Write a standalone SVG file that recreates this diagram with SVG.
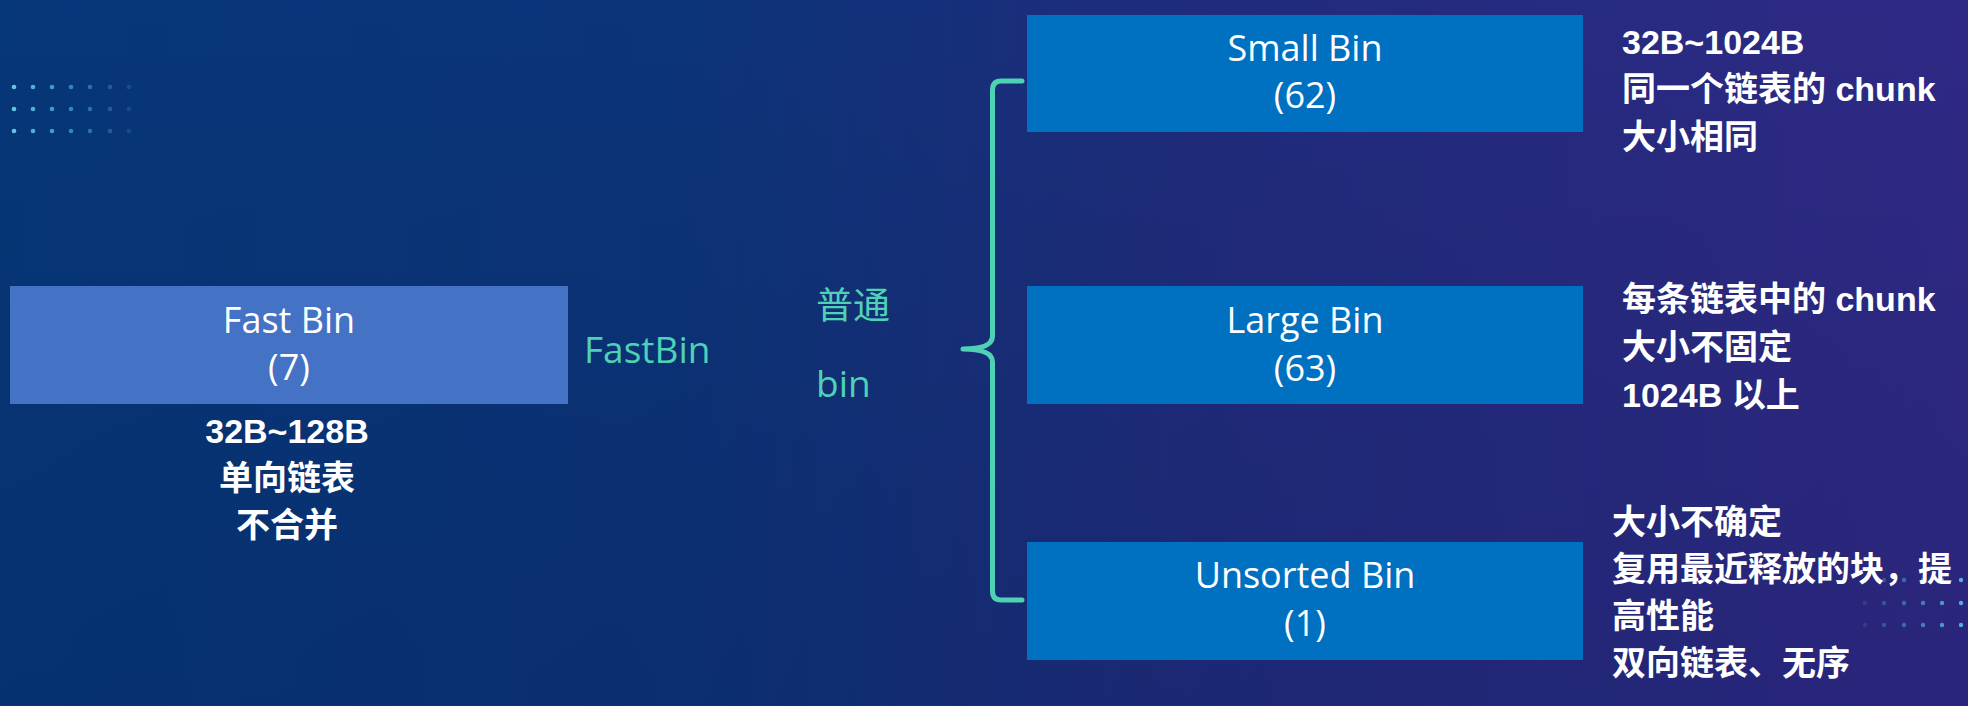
<svg xmlns="http://www.w3.org/2000/svg" width="1968" height="706" viewBox="0 0 1968 706">
  <defs>
    <linearGradient id="bg" x1="0" y1="0" x2="1" y2="0">
      <stop offset="0" stop-color="#063779"/>
      <stop offset="0.35" stop-color="#0c3479"/>
      <stop offset="0.6" stop-color="#1f2c7c"/>
      <stop offset="1" stop-color="#2f2986"/>
    </linearGradient>
    <linearGradient id="shade" x1="0" y1="0" x2="0" y2="1">
      <stop offset="0" stop-color="#000000" stop-opacity="0"/>
      <stop offset="1" stop-color="#000a30" stop-opacity="0.12"/>
    </linearGradient>
    <style>
      .box-light { fill: #4472C4; }
      .box { fill: #0070C0; }
      .lbl { font-family: "Open Sans", "Noto Sans", sans-serif; font-size: 36px; fill: #ffffff; text-anchor: middle; }
      .note { font-family: "Liberation Sans", "Noto Sans CJK SC", sans-serif; font-size: 34px; font-weight: 700; fill: #ffffff; }
      .green { font-family: "Open Sans", "Noto Sans CJK SC", sans-serif; font-size: 37px; fill: #4FD1B6; }
      .brace { fill: none; stroke: #4FD1B6; stroke-width: 5; stroke-linejoin: round; stroke-linecap: round; }
      .dot { fill: #5EC8E2; }
    </style>
  </defs>

  <rect x="0" y="0" width="1968" height="706" fill="url(#bg)"/>
  <rect x="0" y="0" width="1968" height="706" fill="url(#shade)"/>

  <g id="dots-top-left">
    <g opacity="1"><circle class="dot" cx="14" cy="87" r="2.3"/><circle class="dot" cx="14" cy="109" r="2.3"/><circle class="dot" cx="14" cy="131" r="2.3"/></g>
    <g opacity="0.85"><circle class="dot" cx="33" cy="87" r="2.3"/><circle class="dot" cx="33" cy="109" r="2.3"/><circle class="dot" cx="33" cy="131" r="2.3"/></g>
    <g opacity="0.7"><circle class="dot" cx="52" cy="87" r="2.3"/><circle class="dot" cx="52" cy="109" r="2.3"/><circle class="dot" cx="52" cy="131" r="2.3"/></g>
    <g opacity="0.55"><circle class="dot" cx="71" cy="87" r="2.3"/><circle class="dot" cx="71" cy="109" r="2.3"/><circle class="dot" cx="71" cy="131" r="2.3"/></g>
    <g opacity="0.42"><circle class="dot" cx="90" cy="87" r="2.3"/><circle class="dot" cx="90" cy="109" r="2.3"/><circle class="dot" cx="90" cy="131" r="2.3"/></g>
    <g opacity="0.28"><circle class="dot" cx="110" cy="87" r="2.3"/><circle class="dot" cx="110" cy="109" r="2.3"/><circle class="dot" cx="110" cy="131" r="2.3"/></g>
    <g opacity="0.16"><circle class="dot" cx="129" cy="87" r="2.3"/><circle class="dot" cx="129" cy="109" r="2.3"/><circle class="dot" cx="129" cy="131" r="2.3"/></g>
  </g>

  <g id="dots-bottom-right">
    <g opacity="0.15"><circle class="dot" cx="1865" cy="580" r="2.2"/><circle class="dot" cx="1865" cy="603" r="2.2"/><circle class="dot" cx="1865" cy="625" r="2.2"/></g>
    <g opacity="0.28"><circle class="dot" cx="1884" cy="580" r="2.2"/><circle class="dot" cx="1884" cy="603" r="2.2"/><circle class="dot" cx="1884" cy="625" r="2.2"/></g>
    <g opacity="0.42"><circle class="dot" cx="1904" cy="580" r="2.2"/><circle class="dot" cx="1904" cy="603" r="2.2"/><circle class="dot" cx="1904" cy="625" r="2.2"/></g>
    <g opacity="0.55"><circle class="dot" cx="1923" cy="580" r="2.2"/><circle class="dot" cx="1923" cy="603" r="2.2"/><circle class="dot" cx="1923" cy="625" r="2.2"/></g>
    <g opacity="0.7"><circle class="dot" cx="1942" cy="580" r="2.2"/><circle class="dot" cx="1942" cy="603" r="2.2"/><circle class="dot" cx="1942" cy="625" r="2.2"/></g>
    <g opacity="0.85"><circle class="dot" cx="1961" cy="580" r="2.2"/><circle class="dot" cx="1961" cy="603" r="2.2"/><circle class="dot" cx="1961" cy="625" r="2.2"/></g>
  </g>

  <g id="connectors">
    <path class="brace" d="M1022,81 L1001,81 Q992.5,81 992.5,90 L992.5,336 Q992.5,349 963,349 Q992.5,349 992.5,362 L992.5,591 Q992.5,600 1001,600 L1022,600"/>
  </g>

  <g id="fastbin">
    <rect class="box-light" x="10" y="286" width="558" height="118"/>
    <text class="lbl" x="289" y="333">Fast Bin</text>
    <text class="lbl" x="289" y="380">(7)</text>
  </g>

  <g id="fastbin-notes">
    <text class="note" x="287" y="443" text-anchor="middle">32B~128B</text>
    <text class="note" x="287" y="490" text-anchor="middle">单向链表</text>
    <text class="note" x="287" y="537" text-anchor="middle">不合并</text>
  </g>

  <g id="fastbin-label">
    <text class="green" x="584" y="363">FastBin</text>
  </g>

  <g id="normal-bin-label">
    <text class="green" x="816" y="319" font-size="38" font-family="'Noto Sans CJK SC', sans-serif">普通</text>
    <text class="green" x="816" y="397">bin</text>
  </g>

  <g id="smallbin">
    <rect class="box" x="1027" y="15" width="556" height="117"/>
    <text class="lbl" x="1305" y="61">Small Bin</text>
    <text class="lbl" x="1305" y="108">(62)</text>
  </g>

  <g id="smallbin-notes">
    <text class="note" x="1622" y="54">32B~1024B</text>
    <text class="note" x="1622" y="101">同一个链表的 chunk</text>
    <text class="note" x="1622" y="149">大小相同</text>
  </g>

  <g id="largebin">
    <rect class="box" x="1027" y="286" width="556" height="118"/>
    <text class="lbl" x="1305" y="333">Large Bin</text>
    <text class="lbl" x="1305" y="381">(63)</text>
  </g>

  <g id="largebin-notes">
    <text class="note" x="1622" y="311">每条链表中的 chunk</text>
    <text class="note" x="1622" y="359">大小不固定</text>
    <text class="note" x="1622" y="407">1024B 以上</text>
  </g>

  <g id="unsortedbin">
    <rect class="box" x="1027" y="542" width="556" height="118"/>
    <text class="lbl" x="1305" y="588">Unsorted Bin</text>
    <text class="lbl" x="1305" y="636">(1)</text>
  </g>

  <g id="unsortedbin-notes">
    <text class="note" x="1612" y="534">大小不确定</text>
    <text class="note" x="1612" y="581">复用最近释放的块，提</text>
    <text class="note" x="1612" y="628">高性能</text>
    <text class="note" x="1612" y="675">双向链表、无序</text>
  </g>
</svg>
